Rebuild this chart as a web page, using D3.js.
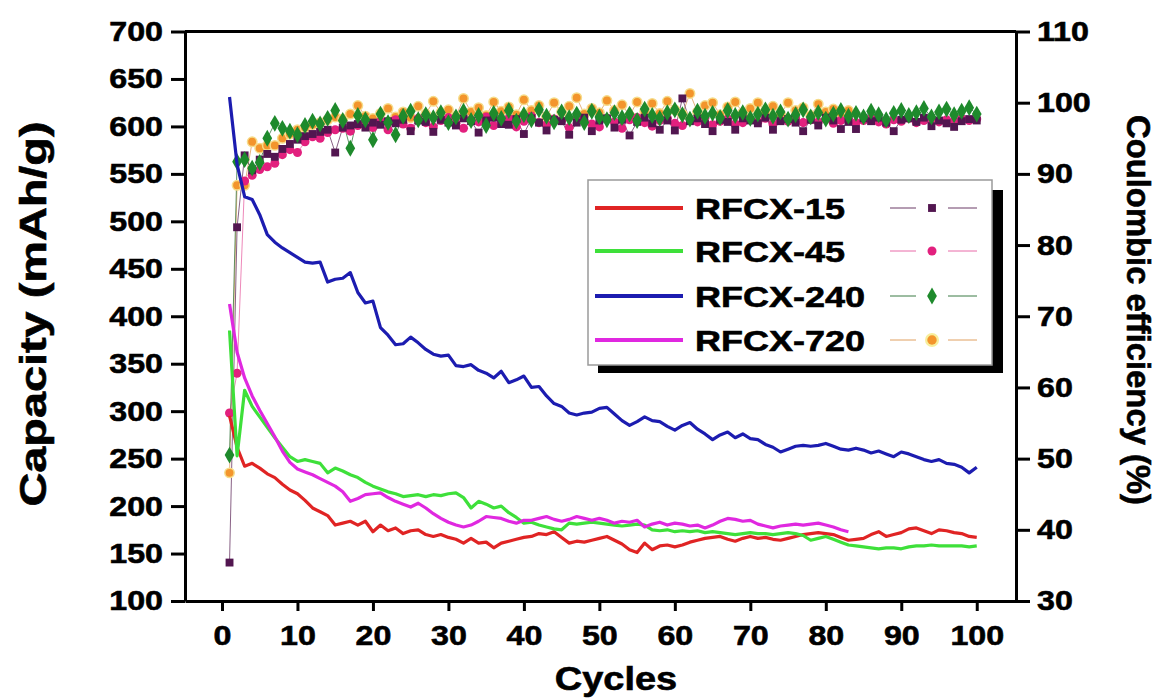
<!DOCTYPE html>
<html>
<head>
<meta charset="utf-8">
<script src="https://cdn.jsdelivr.net/npm/d3@7"></script>
<style>
  body { margin: 0; background: #fff; }
  svg { display: block; }
</style>
</head>
<body>
<svg id="chart" width="1158" height="698"></svg>
<script>
/* Capacity + coulombic efficiency vs cycle number, four RFCX samples */

// ── Data (capacity in mAh/g, CE in %; index 0 = cycle 1) ──
var names = ['RFCX-15', 'RFCX-45', 'RFCX-240', 'RFCX-720'];

var cap15 = [295,262,242,245,240,234,230,223,217,213,
  206,198,194,190,180,182,184,180,184,173,
  180,174,177,171,174,175,170,168,170,167,
  165,161,166,161,162,156,161,163,165,167,
  168,171,170,173,167,161,163,162,164,166,
  168,164,160,154,151,161,154,158,159,157,
  159,162,164,166,167,168,165,163,166,168,
  166,167,165,164,166,168,170,171,172,171,
  170,167,164,165,166,170,173,168,170,172,
  176,177,174,171,175,174,172,171,168,167];

var cap45 = [385,253,322,305,294,283,272,262,252,247,
  249,247,245,235,240,237,233,230,225,221,
  218,215,213,210,211,212,210,212,211,213,
  214,209,198,205,202,198,200,193,188,182,
  183,180,178,176,175,182,181,182,183,182,
  181,180,179,180,181,180,175,174,175,173,
  174,173,174,172,173,172,171,170,171,172,
  171,171,170,171,172,171,169,164,166,168,
  165,162,159,158,157,156,155,156,156,155,
  157,158,158,159,158,158,158,158,157,158];

var cap240 = [631,560,526,523,507,486,478,472,467,462,
  457,456,457,436,439,440,446,425,414,416,
  388,380,370,371,378,372,365,360,358,359,
  348,347,349,343,340,335,342,330,333,337,
  325,326,316,308,305,298,296,298,299,303,
  304,297,290,285,289,294,290,289,284,280,
  285,288,281,276,270,275,278,272,276,271,
  270,265,262,257,260,263,264,263,264,266,
  263,260,259,261,259,256,258,255,252,257,
  255,252,249,247,249,245,244,241,235,241];

var cap720 = [413,362,335,316,301,287,273,258,246,239,
  236,233,229,225,221,215,205,208,212,213,
  214,209,205,202,199,203,198,192,187,183,
  180,178,180,184,189,188,187,184,182,185,
  185,187,189,186,184,186,189,187,185,187,
  185,182,184,183,185,178,181,183,180,182,
  181,179,180,177,180,184,187,186,184,185,
  181,179,177,179,180,181,180,181,182,180,
  178,175,173];

var ce15 = [35.4,82.5,92.6,90.5,92.0,92.8,92.4,93.5,94.2,94.8,
  95.3,95.6,95.9,96.2,93.0,96.5,96.8,97.0,96.5,97.2,
  96.9,97.4,97.1,97.6,96.0,97.5,97.3,95.9,97.6,97.2,
  96.8,97.8,97.4,95.8,97.5,97.9,97.0,96.9,97.7,95.6,
  97.8,97.2,96.1,97.6,97.4,95.5,97.2,97.9,96.0,97.5,
  97.8,96.5,97.6,95.4,97.3,97.9,97.1,96.2,97.5,96.1,
  100.6,97.4,97.8,97.0,96.0,97.6,97.3,96.2,97.8,97.5,
  97.1,97.9,96.2,97.4,97.7,97.2,96.0,97.6,96.8,97.9,
  97.5,96.3,97.3,96.3,97.8,97.4,97.9,97.2,96.0,97.6,
  97.8,97.3,97.9,96.7,97.5,97.1,96.6,97.4,97.7,97.5];

var ce45 = [56.4,62.0,89.0,89.8,90.6,91.0,91.5,92.7,93.4,93.0,
  94.5,95.2,95.0,95.8,96.2,96.4,96.0,96.8,97.1,96.5,
  97.4,96.2,97.6,97.0,96.4,97.8,97.2,96.6,97.5,97.9,
  97.1,96.4,97.6,97.3,98.0,96.8,97.5,97.8,96.6,97.4,
  98.1,97.2,96.9,97.7,97.5,96.5,97.9,97.4,97.0,96.6,
  97.8,97.3,96.4,97.6,97.9,97.2,96.7,97.5,97.8,97.1,
  96.8,97.6,97.3,97.9,96.9,97.4,97.7,97.0,97.2,97.6,
  97.3,97.8,97.0,97.5,97.4,97.9,97.2,97.6,97.3,97.7,
  97.1,97.5,97.8,97.2,97.5,97.8,97.3,97.0,97.6,97.4,
  97.8,97.2,97.5,97.7,97.3,97.6,97.4,97.8,97.5,97.7];

var ce240 = [50.5,91.7,92.0,90.8,91.6,95.0,97.1,96.4,96.0,95.5,
  96.8,97.4,97.0,97.8,98.9,97.5,93.6,98.2,97.6,94.8,
  98.4,97.2,95.5,98.1,98.8,97.6,98.3,97.9,98.6,97.2,
  98.0,98.8,97.5,98.2,96.8,98.5,97.8,98.9,97.4,98.3,
  97.6,99.0,98.1,97.3,98.7,97.9,98.4,97.2,98.8,98.0,
  97.6,98.6,97.9,98.4,97.5,99.1,98.2,97.8,98.6,99.0,
  98.3,97.7,98.8,98.1,98.5,97.9,98.9,98.2,98.6,97.8,
  98.4,99.0,98.1,98.7,97.7,98.3,99.0,98.0,98.6,97.7,
  98.4,98.9,98.1,98.5,98.0,98.8,98.3,97.6,98.5,98.9,
  98.2,98.6,99.2,98.0,98.7,99.1,98.3,98.8,99.3,98.4];

var ce720 = [48.0,88.4,88.4,94.5,93.6,94.0,94.0,95.0,95.6,96.2,
  96.5,96.9,97.2,97.6,98.0,97.7,98.4,99.6,98.1,97.8,
  98.5,99.2,98.0,98.7,97.9,99.5,98.4,100.2,98.6,99.0,
  98.1,100.6,98.7,99.3,98.2,100.1,98.8,99.4,98.3,100.4,
  98.9,99.6,98.0,100.0,98.7,99.5,100.7,98.4,99.2,98.6,
  100.3,98.9,99.7,98.2,100.1,98.8,99.9,98.5,100.2,99.0,
  98.4,101.3,98.7,99.6,100.0,98.3,99.4,100.1,98.6,99.2,
  100.0,98.8,99.5,98.4,100.0,98.9,99.3,98.2,99.8,98.7,
  99.1,98.5,98.9];

var capTicks = [100,150,200,250,300,350,400,450,500,550,600,650,700];
var ceTicks = [30,40,50,60,70,80,90,100,110];
var cycleTicks = [0,10,20,30,40,50,60,70,80,90,100];

// ── Style constants ──
var FONT = 'Liberation Sans, Arial, Helvetica, sans-serif';
var PLOT = { left: 185, right: 1016, top: 31.5, bottom: 601 };
var AXIS_W = 3;
var LABEL_STRETCH = 1.15;
var TEXT_HEAVY = 0.6;   // faux extra-bold outline
var CAP_COLORS = ['#e02424', '#3ee03a', '#1c1cb0', '#e028e0'];
var CE_COLORS = ['#521650', '#e2207e', '#1e8a2c', '#f3952c'];
var CE_LINE_COLORS = ['#6a3a66', '#e86aa8', '#3a7a44', '#e0a060'];
var CE_SHAPES = [d3.symbolSquare, d3.symbolCircle, d3.symbolDiamond, d3.symbolCircle];
var CE_SIZES = [62, 64, 82, 70];

var series = names.map(function (n, i) {
  return {
    name: n,
    cap: [cap15, cap45, cap240, cap720][i],
    ce: [ce15, ce45, ce240, ce720][i],
    capColor: CAP_COLORS[i],
    ceColor: CE_COLORS[i],
    ceLine: CE_LINE_COLORS[i],
    shape: CE_SHAPES[i],
    size: CE_SIZES[i]
  };
});

var svg = d3.select('#chart');

// ── Scales ──
var x = d3.scaleLinear().domain([-4.9, 105.2]).range([PLOT.left, PLOT.right]);
var yCap = d3.scaleLinear().domain([100, 700]).range([PLOT.bottom, PLOT.top]);
var yCE = d3.scaleLinear().domain([30, 110]).range([PLOT.bottom, PLOT.top]);

function pts(arr) {
  return arr.map(function (v, i) { return { c: i + 1, v: v }; });
}

// ── Coulombic efficiency: thin line + symbols ──
var ceLine = d3.line().x(function (d) { return x(d.c); }).y(function (d) { return yCE(d.v); });
var ceG = svg.append('g');
var ceOrder = [3, 1, 0, 2];
ceOrder.forEach(function (i) {
  var s = series[i];
  ceG.append('path')
    .attr('d', ceLine(pts(s.ce)))
    .attr('fill', 'none')
    .attr('stroke', s.ceLine)
    .attr('stroke-width', 1)
    .attr('stroke-opacity', 0.8);
});
ceOrder.forEach(function (i) {
  var s = series[i];
  ceG.selectAll(null)
    .data(pts(s.ce))
    .join('path')
    .attr('transform', function (d) { return 'translate(' + x(d.c) + ',' + yCE(d.v) + ')'; })
    .attr('d', d3.symbol().type(s.shape).size(s.size))
    .attr('fill', s.ceColor)
    .attr('stroke', i === 3 ? '#f6dc8a' : 'none')
    .attr('stroke-width', 1.5);
});

// ── Capacity lines ──
var capLine = d3.line().x(function (d) { return x(d.c); }).y(function (d) { return yCap(d.v); });
var capG = svg.append('g');
series.forEach(function (s) {
  capG.append('path')
    .attr('d', capLine(pts(s.cap)))
    .attr('fill', 'none')
    .attr('stroke', s.capColor)
    .attr('stroke-width', 3.2)
    .attr('stroke-linejoin', 'round');
});

// ── Axes ──
function styleAxis(g, dx) {
  g.attr('font-size', null).attr('font-family', null);
  g.select('.domain').attr('stroke-width', AXIS_W).attr('stroke', '#000');
  g.selectAll('.tick line').attr('stroke-width', AXIS_W).attr('stroke', '#000');
  g.selectAll('.tick text')
    .attr('fill', '#000')
    .attr('stroke', '#000')
    .attr('stroke-width', TEXT_HEAVY)
    .attr('font-family', FONT)
    .attr('font-weight', 'bold')
    .attr('font-size', 28)
    .attr('transform', 'scale(' + LABEL_STRETCH + ',1)');
  if (dx !== null) g.selectAll('.tick text').attr('x', dx / LABEL_STRETCH);
}

var gx = svg.append('g')
  .attr('transform', 'translate(0,' + PLOT.bottom + ')')
  .call(d3.axisBottom(x).tickValues(cycleTicks).tickSize(10).tickSizeOuter(0).tickPadding(14));
styleAxis(gx, null);

var gl = svg.append('g')
  .attr('transform', 'translate(' + PLOT.left + ',0)')
  .call(d3.axisLeft(yCap).tickValues(capTicks).tickSize(14).tickSizeOuter(0));
styleAxis(gl, -22);

var gr = svg.append('g')
  .attr('transform', 'translate(' + PLOT.right + ',0)')
  .call(d3.axisRight(yCE).tickValues(ceTicks).tickSize(14).tickSizeOuter(0));
styleAxis(gr, 21);

// top frame
svg.append('line')
  .attr('x1', PLOT.left).attr('x2', PLOT.right)
  .attr('y1', PLOT.top).attr('y2', PLOT.top)
  .attr('stroke', '#000').attr('stroke-width', AXIS_W);

// ── Axis titles ──
function heavy(sel) {
  return sel.attr('font-family', FONT).attr('font-weight', 'bold')
    .attr('fill', '#000').attr('stroke', '#000').attr('stroke-width', TEXT_HEAVY);
}

heavy(svg.append('text'))
  .attr('transform', 'translate(46,314) rotate(-90)')
  .attr('text-anchor', 'middle')
  .attr('font-size', 36)
  .attr('textLength', 385).attr('lengthAdjust', 'spacingAndGlyphs')
  .text('Capacity (mAh/g)');

heavy(svg.append('text'))
  .attr('transform', 'translate(1127,310) rotate(90)')
  .attr('text-anchor', 'middle')
  .attr('font-size', 34)
  .attr('textLength', 390).attr('lengthAdjust', 'spacingAndGlyphs')
  .text('Coulombic efficiency (%)');

heavy(svg.append('text'))
  .attr('transform', 'translate(616,690) scale(1.15,1)')
  .attr('text-anchor', 'middle')
  .attr('font-size', 33)
  .text('Cycles');

// ── Legend ──
var LEG = { x: 588, y: 180, w: 404, h: 185 };
var legend = svg.append('g');
legend.append('rect')
  .attr('x', LEG.x + 10).attr('y', LEG.y + 10)
  .attr('width', LEG.w + 1).attr('height', LEG.h - 2)
  .attr('fill', '#000');
legend.append('rect')
  .attr('x', LEG.x).attr('y', LEG.y)
  .attr('width', LEG.w).attr('height', LEG.h)
  .attr('fill', '#fff').attr('stroke', '#9a9a9a').attr('stroke-width', 1.5);

var rowY = [208, 251, 296, 340];
series.forEach(function (s, i) {
  var cy = rowY[i];
  legend.append('line')
    .attr('x1', 595).attr('x2', 683).attr('y1', cy).attr('y2', cy)
    .attr('stroke', s.capColor).attr('stroke-width', 4);
  heavy(legend.append('text'))
    .attr('transform', 'translate(695,' + (cy + 11) + ') scale(1.2,1)')
    .attr('font-size', 30)
    .text(s.name);
  legend.append('line')
    .attr('x1', 890).attr('x2', 916).attr('y1', cy).attr('y2', cy)
    .attr('stroke', s.ceLine).attr('stroke-width', 1);
  legend.append('line')
    .attr('x1', 948).attr('x2', 977).attr('y1', cy).attr('y2', cy)
    .attr('stroke', s.ceLine).attr('stroke-width', 1);
  if (i === 3) {
    legend.append('circle').attr('cx', 932).attr('cy', cy).attr('r', 7).attr('fill', '#f7ee9c');
  }
  legend.append('path')
    .attr('transform', 'translate(932,' + cy + ')')
    .attr('d', d3.symbol().type(s.shape).size(s.size))
    .attr('fill', s.ceColor);
});
</script>
</body>
</html>
